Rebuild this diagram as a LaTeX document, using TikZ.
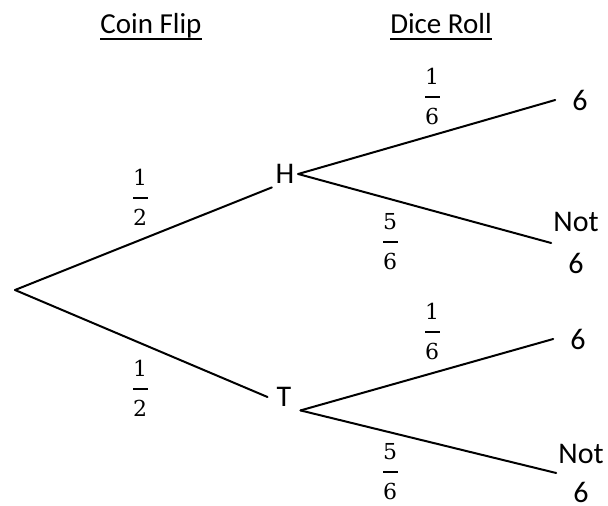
\documentclass[tikz,border=0pt]{standalone}
\usepackage{fontspec}
\setmainfont{Carlito}
\newfontfamily\fracdigits{DejaVu Serif}
\tikzset{
  branch/.style={line width=2pt, line cap=round},
  title/.style={font=\fontsize{29}{34}\selectfont, inner sep=0pt, anchor=base},
  underl/.style={line width=1.5pt},
  outcome/.style={font=\fontsize{30}{36}\selectfont, inner sep=3.6pt},
  leaf/.style={font=\fontsize{30}{36}\selectfont, inner xsep=17pt, inner ysep=0pt},
  twoline/.style={font=\fontsize{30}{42}\selectfont, align=center, inner sep=2pt},
  twolinetight/.style={twoline, font=\fontsize{30}{39}\selectfont},
  fracbar/.style={fill=black, minimum width=15pt, minimum height=1.8pt,
    inner sep=0pt, outer sep=0pt},
  fracdigit/.style={font=\fracdigits\fontsize{22}{26}\selectfont, inner sep=0pt}
}
% a fraction: bar node #1 at #2, numerator #3, denominator #4
\newcommand\probfrac[4]{%
  \node[fracbar] (#1) at #2 {};
  \node[fracdigit, anchor=south] (#1num) at ([yshift=11pt]#1.north) {#3};
  \node[fracdigit, anchor=north] (#1den) at ([yshift=-10pt]#1.south) {#4};
}
\begin{document}
\begin{tikzpicture}[x=1pt, y=-1pt]
\useasboundingbox (0,0) rectangle (608,506);
\fill[white] (0,0) rectangle (608,506);

% column headings
\node[title] (coin) at (151,34) {Coin Flip};
\node[title] (dice) at (441,34) {Dice Roll};
\draw[underl] ([yshift=-5pt]coin.base west) -- ([yshift=-5pt]coin.base east);
\draw[underl] ([yshift=-5pt]dice.base west) -- ([yshift=-5pt]dice.base east);

% tree nodes
\coordinate (root) at (15,290);
\node[outcome] (H) at (285,174) {H};
\node[outcome, inner xsep=9pt] (T) at (284,397) {T};
\node[leaf] (H6) at (580,100) {6};
\node[twoline] (HN) at (576,243) {Not\\6};
\node[leaf] (T6) at (578,339) {6};
\node[twolinetight] (TN) at (581,473) {Not\\6};

% branches
\draw[branch] (root) -- (H.south west);
\draw[branch] (root) -- (T.west);
\draw[branch] (H.east) -- (H6.west);
\draw[branch] (H.east) -- (HN.west);
\draw[branch] (T.south east) -- (T6.west);
\draw[branch] (T.south east) -- (TN.west);

% branch probabilities
\probfrac{pH}{(140,198)}{1}{2}
\probfrac{pT}{(140,389)}{1}{2}
\probfrac{pHsix}{(432,97)}{1}{6}
\probfrac{pHnot}{(390,242)}{5}{6}
\probfrac{pTsix}{(432,332)}{1}{6}
\probfrac{pTnot}{(390,472)}{5}{6}
\end{tikzpicture}
\end{document}
